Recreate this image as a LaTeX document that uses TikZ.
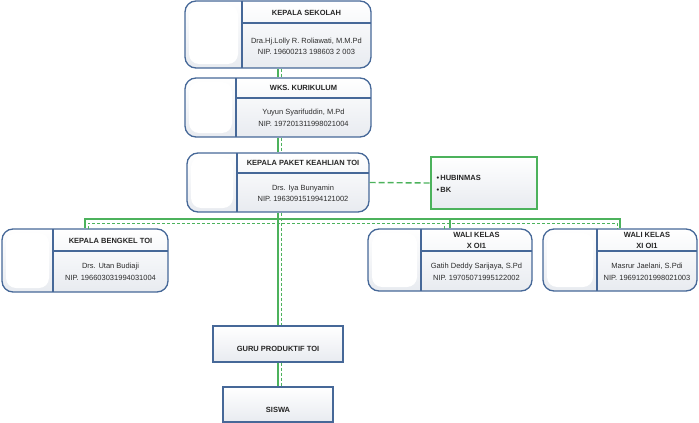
\documentclass[tikz,border=0pt]{standalone}
\usepackage{fontspec}
\setmainfont{Liberation Sans}
\definecolor{cborder}{RGB}{70,104,152}
\definecolor{cgreen}{RGB}{76,178,92}
\definecolor{cfill}{RGB}{232,235,240}
\definecolor{ctext}{RGB}{45,45,45}
\tikzset{orgchart/.style={x=1pt,y=-1pt,font=\fontsize{7.5}{11.5}\selectfont},
  jabatan/.style={draw=cborder,line width=1.3pt,rounded corners=11pt,top color=white,bottom color=cfill,inner sep=0pt},
  kotak/.style={draw=cborder,line width=1.3pt,top color=white,bottom color=cfill,inner sep=0pt},
  sekat/.style={cborder,line width=1.1pt},
  judul/.style={font=\fontsize{7.5}{11.5}\selectfont\bfseries,text=black!85,align=center},
  isi/.style={text=ctext,align=center},
  garis/.style={cgreen,line width=1.6pt},
  putus/.style={cgreen,line width=0.7pt,dash pattern=on 3pt off 2pt},
  putustebal/.style={cgreen,line width=1.4pt,dash pattern=on 6pt off 3pt}}

\begin{document}
\begin{tikzpicture}[orgchart]
    \useasboundingbox (0,0) rectangle (699,423);
    % kotak jabatan
    \node[jabatan,minimum width=186,minimum height=67] (ks)  at (278,34.5)  {};
    \node[jabatan,minimum width=186,minimum height=59] (wk)  at (278,107.5) {};
    \node[jabatan,minimum width=182,minimum height=59] (kp)  at (278,182.5) {};
    \node[jabatan,minimum width=166,minimum height=63] (kb)  at (85,260.5)  {};
    \node[jabatan,minimum width=164,minimum height=62] (wk1) at (450,260)   {};
    \node[jabatan,minimum width=154,minimum height=62] (wk2) at (620,260)   {};
    \node[kotak,draw=cgreen,line width=2pt,minimum width=106,minimum height=52] (hub) at (484,183) {};
    \node[kotak,minimum width=130,minimum height=36] (guru)  at (278,344)   {};
    \node[kotak,minimum width=110,minimum height=35] (siswa) at (278,404.5) {};
    % foto dan sekat
    \foreach \l/\t/\r/\b/\v/\h in {185/1/371/68/242/23, 185/78/371/137/236/98, 187/153/369/212/237/173,
        2/229/168/292/53/251, 368/229/532/291/421/251, 543/229/697/291/597/251} {
      \fill[white,rounded corners=10pt] (\l+4,\t+4) rectangle (\v-4,\b-4);
      \draw[sekat] (\v,\t) -- (\v,\b) (\v,\h) -- (\r,\h);
    }
    % garis komando
    \coordinate (bus)  at (278,219);
    \coordinate (bus2) at (281,223);
    \coordinate (kb2)  at (88,229);
    \coordinate (wa2)  at (444,229);
    \coordinate (wb2)  at (617,229);
    \draw[garis] (ks) -- (wk);
    \draw[garis] (wk) -- (kp);
    \draw[garis] (kp) -- (guru);
    \draw[garis] (guru) -- (siswa);
    \draw[garis] (kb.north) |- (bus) -| (wk2.north);
    \draw[garis] (wk1.north) -- (wk1.north |- bus);
    % garis koordinasi
    \draw[putus] ([xshift=3pt]ks.south) -- ([xshift=3pt]wk.north);
    \draw[putus] ([xshift=3pt]wk.south) -- ([xshift=3pt]kp.north);
    \draw[putus] ([xshift=3pt]kp.south) -- ([xshift=3pt]guru.north);
    \draw[putus] ([xshift=3pt]guru.south) -- ([xshift=3pt]siswa.north);
    \draw[putus] (kb2) |- (bus2) -| (wb2);
    \draw[putus] (wa2) -- (wa2 |- bus2);
    \draw[putustebal] (kp.east) -- (hub.west);
    % teks
    \node[judul] (ks-j) at (306.5,13) {KEPALA SEKOLAH};
    \node[isi]   (ks-i) at (306.5,46.5) {Dra.Hj.Lolly R. Roliawati, M.M.Pd\\NIP. 19600213 198603 2 003};
    \node[judul] (wk-j) at (303.5,88) {WKS. KURIKULUM};
    \node[isi]   (wk-i) at (303.5,118) {Yuyun Syarifuddin, M.Pd\\NIP. 197201311998021004};
    \node[judul] (kp-j) at (303,163) {KEPALA PAKET KEAHLIAN TOI};
    \node[isi]   (kp-i) at (303,193.5) {Drs. Iya Bunyamin\\NIP. 196309151994121002};
    \node[judul] (kb-j) at (110.5,241) {KEPALA BENGKEL TOI};
    \node[isi]   (kb-i) at (110.5,272) {Drs. Utan Budiaji\\NIP. 196603031994031004};
    \node[judul] (wk1-j) at (476.5,240.5) {WALI KELAS\\X OI1};
    \node[isi]   (wk1-i) at (476.5,272) {Gatih Deddy Sarijaya, S.Pd\\NIP. 19705071995122002};
    \node[judul] (wk2-j) at (647,240.5) {WALI KELAS\\XI OI1};
    \node[isi]   (wk2-i) at (647,272) {Masrur Jaelani, S.Pdi\\NIP. 19691201998021003};
    \node[judul,anchor=west] (hub-a) at (433,178) {\textbullet\,HUBINMAS};
    \node[judul,anchor=west] (hub-b) at (433,190) {\textbullet\,BK};
    \node[judul] (guru-j)  at (278,349) {GURU PRODUKTIF TOI};
    \node[judul] (siswa-j) at (278,410) {SISWA};
\end{tikzpicture}
\end{document}
